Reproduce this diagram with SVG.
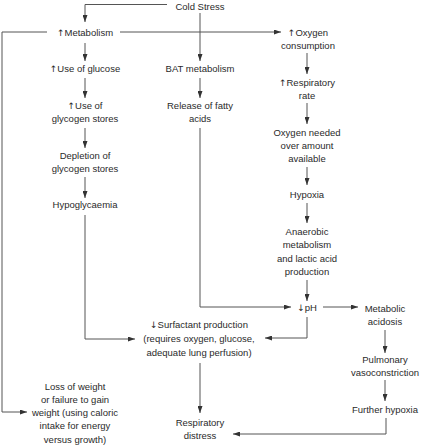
<svg xmlns="http://www.w3.org/2000/svg" width="421" height="445" viewBox="0 0 421 445">
<defs>
<marker id="ah" markerUnits="userSpaceOnUse" markerWidth="7" markerHeight="5" refX="7" refY="2.5" orient="auto">
<path d="M0,0 L7,2.5 L0,5 z" fill="#333"/>
</marker>
<style>
text{font-family:"Liberation Sans",Arial,sans-serif;font-size:9.5px;fill:#2a2a2a;text-anchor:middle}
.ar{font-family:"DejaVu Sans",sans-serif;font-size:9px;font-variant-emoji:text}
.c path{fill:none;stroke:#555;stroke-width:1;marker-end:url(#ah)}
</style>
</defs>
<rect width="421" height="445" fill="#fff"/>
<g class="c" id="connectors">
<path d="M167,4.5 H85 V22"/>
<path d="M200,13 V61"/>
<path d="M120,32 H281"/>
<path d="M47,32 H2 V412 H27"/>
<path d="M85,43 V61"/>
<path d="M85,78 V98"/>
<path d="M85,128 V148"/>
<path d="M85,177 V198"/>
<path d="M85,215 V339 H135"/>
<path d="M200,78 V98"/>
<path d="M200,128 V307 H291"/>
<path d="M307,53 V74"/>
<path d="M307,103 V124"/>
<path d="M307,167 V185"/>
<path d="M307,203 V223"/>
<path d="M307,280 V301"/>
<path d="M323,307 H358"/>
<path d="M307,317 V338 H265"/>
<path d="M200,363 V413"/>
<path d="M385,330 V353"/>
<path d="M385,380 V401"/>
<path d="M386,418 V434 H233"/>
</g>
<g id="cold"><text x="200" y="9.5">Cold Stress</text></g>
<g id="metab"><text x="85" y="35.5"><tspan class="ar">↑&#xFE0E;</tspan>Metabolism</text></g>
<g id="oxy"><text x="308" y="35.5"><tspan class="ar">↑&#xFE0E;</tspan>Oxygen</text><text x="308" y="48.5">consumption</text></g>
<g id="glucose"><text x="85" y="71.5"><tspan class="ar">↑&#xFE0E;</tspan>Use of glucose</text></g>
<g id="bat"><text x="200" y="71.5">BAT metabolism</text></g>
<g id="resp"><text x="307" y="85.5"><tspan class="ar">↑&#xFE0E;</tspan>Respiratory</text><text x="307" y="98.5">rate</text></g>
<g id="glycogen"><text x="85" y="108.5"><tspan class="ar">↑&#xFE0E;</tspan>Use of</text><text x="85" y="121.5">glycogen stores</text></g>
<g id="fatty"><text x="200" y="108.5">Release of fatty</text><text x="200" y="121.5">acids</text></g>
<g id="needed"><text x="307" y="135.5">Oxygen needed</text><text x="307" y="148.5">over amount</text><text x="307" y="161.5">available</text></g>
<g id="depletion"><text x="85" y="158.5">Depletion of</text><text x="85" y="172">glycogen stores</text></g>
<g id="hypogly"><text x="85" y="207.5">Hypoglycaemia</text></g>
<g id="hypoxia"><text x="307" y="197.5">Hypoxia</text></g>
<g id="anaerobic"><text x="307" y="234.5">Anaerobic</text><text x="307" y="248">metabolism</text><text x="307" y="261.5">and lactic acid</text><text x="307" y="275">production</text></g>
<g id="ph"><text x="307" y="311"><tspan class="ar">↓&#xFE0E;</tspan>pH</text></g>
<g id="acidosis"><text x="385" y="311.5">Metabolic</text><text x="385" y="325">acidosis</text></g>
<g id="surfactant"><text x="199" y="327.5"><tspan class="ar">↓&#xFE0E;</tspan>Surfactant production</text><text x="199" y="341.5">(requires oxygen, glucose,</text><text x="199" y="355.5">adequate lung perfusion)</text></g>
<g id="pulmonary"><text x="385" y="362.5">Pulmonary</text><text x="385" y="375.5">vasoconstriction</text></g>
<g id="further"><text x="385" y="412.5">Further hypoxia</text></g>
<g id="loss"><text x="75" y="389.5">Loss of weight</text><text x="75" y="402.5">or failure to gain</text><text x="75" y="415.5">weight (using caloric</text><text x="75" y="429">intake for energy</text><text x="75" y="442.5">versus growth)</text></g>
<g id="distress"><text x="200" y="425.5">Respiratory</text><text x="200" y="439">distress</text></g>
</svg>
